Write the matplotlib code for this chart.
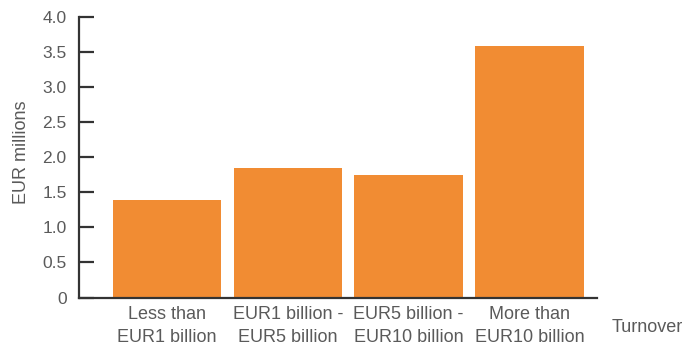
import matplotlib
matplotlib.use("Agg")
import matplotlib.pyplot as plt

categories = ["Less than\nEUR1 billion", "EUR1 billion -\nEUR5 billion",
              "EUR5 billion -\nEUR10 billion", "More than\nEUR10 billion"]
values = [1.39, 1.84, 1.75, 3.59]
y_ticks = [0, 0.5, 1.0, 1.5, 2.0, 2.5, 3.0, 3.5, 4.0]
y_tick_labels = ["0", "0.5", "1.0", "1.5", "2.0", "2.5", "3.0", "3.5", "4.0"]

plt.rcParams["font.family"] = ["Liberation Sans", "DejaVu Sans"]
text_color = "#5a5a5a"
axis_color = "#333333"

fig = plt.figure(figsize=(6.97, 3.46), dpi=100)
ax = fig.add_axes([79 / 697, 48.5 / 346, (597 - 79) / 697, (297.5 - 17) / 346])

x = list(range(len(categories)))
ax.bar(x, values, width=0.9, color="#F18C33")

ax.set_xlim(-0.73, 3.56)
ax.set_ylim(0, 4.0)
ax.set_yticks(y_ticks)
ax.set_yticklabels(y_tick_labels)
ax.set_xticks(x)
ax.set_xticklabels(categories, linespacing=1.45)

for side in ("top", "right"):
    ax.spines[side].set_visible(False)
for side in ("left", "bottom"):
    ax.spines[side].set_color(axis_color)
    ax.spines[side].set_linewidth(1.6)

ax.tick_params(axis="y", direction="in", length=11, width=1.6, color=axis_color,
               labelsize=12.5, labelcolor=text_color, pad=9)
ax.tick_params(axis="x", length=0, labelsize=13, labelcolor=text_color, pad=6)

fig.text(22 / 697, 1 - 152 / 346, "EUR millions", rotation=90, ha="center", va="center",
         fontsize=13, color=text_color)
fig.text(647 / 697, 1 - 327 / 346, "Turnover", ha="center", va="center",
         fontsize=13, color=text_color)

fig.savefig("out.png", dpi=100)
